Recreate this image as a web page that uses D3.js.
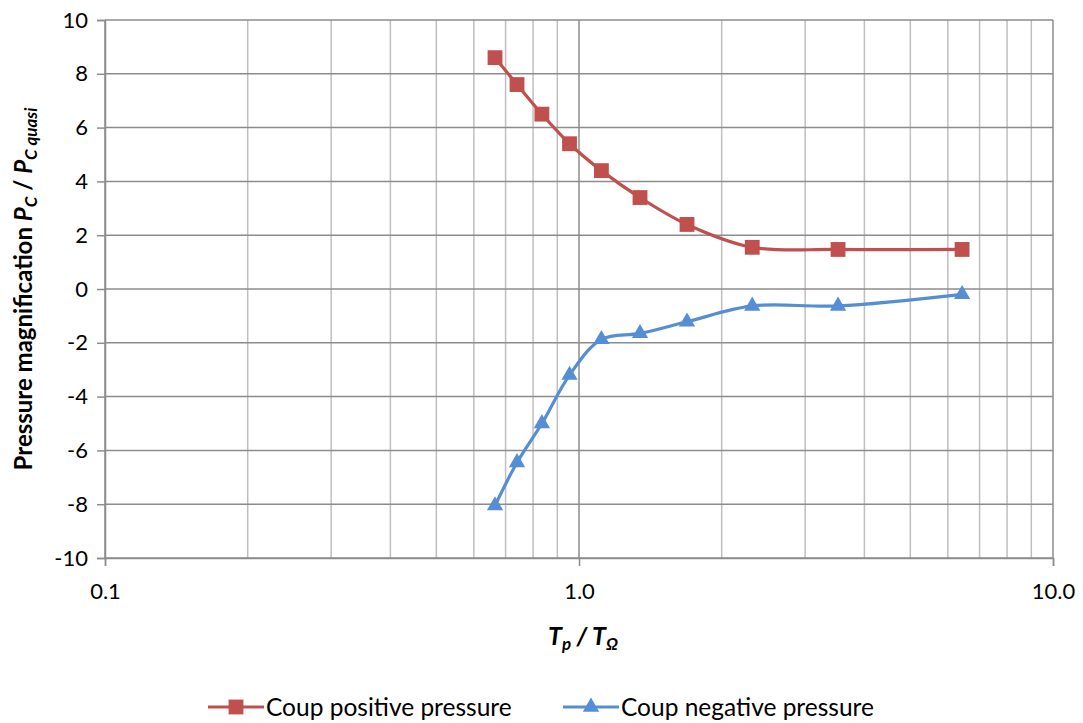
<!DOCTYPE html>
<html>
<head>
<meta charset="utf-8">
<script src="https://cdn.jsdelivr.net/npm/d3@7"></script>
<style>
  html, body { margin: 0; padding: 0; background: #fff; }
  svg text { font-family: Lato, "Open Sans", sans-serif; fill: #000; }
</style>
</head>
<body>
<svg id="chart" width="1083" height="723"></svg>
<script>
// Period ratio Tp / TΩ at each test point
const ratio = [0.665, 0.74, 0.835, 0.955, 1.115, 1.345, 1.69, 2.32, 3.52, 6.43];
// Coup pressure magnification Pc / Pc quasi
const positivePressure = [8.6, 7.6, 6.5, 5.4, 4.4, 3.4, 2.4, 1.55, 1.47, 1.47];
const negativePressure = [-8.05, -6.45, -5.0, -3.2, -1.87, -1.65, -1.22, -0.63, -0.63, -0.2];
const seriesNames = ["Coup positive pressure", "Coup negative pressure"];
const xTickValues = [0.1, 1, 10];
const xTickLabels = ["0.1", "1.0", "10.0"];
const yTickValues = [-10, -8, -6, -4, -2, 0, 2, 4, 6, 8, 10];

const red = "#C0504D", blue = "#558ED5";
const svg = d3.select("#chart");
const plotLeft = 105, plotRight = 1053, plotTop = 20, plotBottom = 558;

const x = d3.scaleLog().domain([0.1, 10]).range([plotLeft, plotRight]);
const y = d3.scaleLinear().domain([-10, 10]).range([plotBottom, plotTop]);

// minor vertical gridlines (2..9 within each decade)
const minor = [];
[0.1, 1].forEach(d => { for (let k = 2; k <= 9; k++) minor.push(d * k); });
svg.append("g").selectAll("line").data(minor).join("line")
  .attr("x1", d => x(d)).attr("x2", d => x(d))
  .attr("y1", plotTop).attr("y2", plotBottom)
  .attr("stroke", "#BFBFBF").attr("stroke-width", 1.5);

// major gridlines
svg.append("g").selectAll("line").data(yTickValues).join("line")
  .attr("x1", plotLeft).attr("x2", plotRight)
  .attr("y1", d => y(d)).attr("y2", d => y(d))
  .attr("stroke", "#8C8C8C").attr("stroke-width", 1.5);
svg.append("g").selectAll("line").data(xTickValues).join("line")
  .attr("x1", d => x(d)).attr("x2", d => x(d))
  .attr("y1", plotTop).attr("y2", plotBottom)
  .attr("stroke", "#8C8C8C").attr("stroke-width", 1.5);

// y axis
const yAxis = svg.append("g").attr("transform", `translate(${plotLeft},0)`)
  .call(d3.axisLeft(y).tickValues(yTickValues).tickSize(8).tickPadding(9).tickFormat(d => String(d)));
yAxis.select(".domain").attr("stroke", "#8C8C8C").attr("stroke-width", 1.5);
yAxis.selectAll(".tick line").attr("stroke", "#8C8C8C").attr("stroke-width", 1.5);
yAxis.selectAll(".tick text").style("font-size", "22px").attr("fill", "#000");

// x axis
const xAxis = svg.append("g").attr("transform", `translate(0,${plotBottom})`)
  .call(d3.axisBottom(x).tickValues(xTickValues).tickSize(8).tickPadding(17)
    .tickFormat((d, i) => xTickLabels[i]));
xAxis.select(".domain").attr("stroke", "#8C8C8C").attr("stroke-width", 1.5);
xAxis.selectAll(".tick line").attr("stroke", "#8C8C8C").attr("stroke-width", 1.5);
xAxis.selectAll(".tick text").style("font-size", "22px").attr("fill", "#000");

// series
const series = [
  { name: seriesNames[0], values: positivePressure, color: red, shape: d3.symbolSquare, size: 220 },
  { name: seriesNames[1], values: negativePressure, color: blue, shape: d3.symbolTriangle, size: 115 }
];
const line = d3.line().x(d => x(d[0])).y(d => y(d[1])).curve(d3.curveCatmullRom.alpha(0.5));
series.forEach(s => {
  const pts = ratio.map((r, i) => [r, s.values[i]]);
  svg.append("path").datum(pts).attr("d", line)
    .attr("fill", "none").attr("stroke", s.color).attr("stroke-width", 3.2);
  svg.append("g").selectAll("path").data(pts).join("path")
    .attr("transform", d => `translate(${x(d[0])},${y(d[1])})`)
    .attr("d", d3.symbol().type(s.shape).size(s.size))
    .attr("fill", s.color);
});

// y axis title
const yt = svg.append("text")
  .attr("transform", `translate(32,${(plotTop + plotBottom) / 2}) rotate(-90)`)
  .attr("text-anchor", "middle")
  .style("font-size", "24px").style("font-weight", "bold");
yt.append("tspan").text("Pressure magnification ");
yt.append("tspan").style("font-style", "italic").text("P");
yt.append("tspan").style("font-style", "italic").style("font-size", "17px").attr("dy", 5).text("C");
yt.append("tspan").attr("dy", -5).text(" / ");
yt.append("tspan").style("font-style", "italic").text("P");
yt.append("tspan").style("font-style", "italic").style("font-size", "17px").attr("dy", 5).text("C quasi");

// x axis title
const xt = svg.append("text")
  .attr("x", 583).attr("y", 645)
  .attr("text-anchor", "middle")
  .style("font-size", "25px").style("font-weight", "bold").style("font-style", "italic");
xt.append("tspan").text("T");
xt.append("tspan").style("font-size", "17px").attr("dy", 5).text("p");
xt.append("tspan").attr("dy", -5).text(" / ");
xt.append("tspan").text("T");
xt.append("tspan").style("font-size", "17px").attr("dy", 5).text("Ω");

// legend
const legendX = [208, 563];
series.forEach((s, i) => {
  const g = svg.append("g").attr("transform", `translate(${legendX[i]},707)`);
  g.append("line").attr("x1", 0).attr("x2", 56).attr("stroke", s.color).attr("stroke-width", 3.2);
  g.append("path").attr("transform", "translate(28,0)")
    .attr("d", d3.symbol().type(s.shape).size(s.size))
    .attr("fill", s.color);
  g.append("text").attr("x", 58).attr("dy", "0.35em").style("font-size", "24.5px").text(s.name);
});
</script>
</body>
</html>
